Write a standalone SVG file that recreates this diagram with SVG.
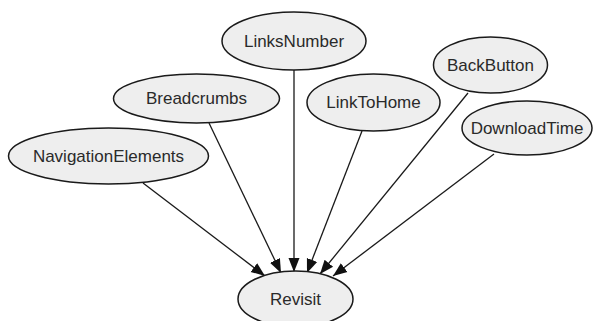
<svg xmlns="http://www.w3.org/2000/svg" width="594" height="321" viewBox="0 0 594 321">
  <style>
    .node ellipse { fill: #eeeeee; stroke: #1a1a1a; stroke-width: 1.5; }
    .node text { font-family: "Liberation Sans", Arial, sans-serif; font-size: 17px; fill: #2a2a2a; text-anchor: middle; dominant-baseline: central; }
    .edge { stroke: #1a1a1a; stroke-width: 1.3; fill: none; marker-end: url(#arrow); }
  </style>
  <defs>
    <marker id="arrow" markerUnits="userSpaceOnUse" markerWidth="15" markerHeight="13" refX="14" refY="6.5" orient="auto">
      <path d="M0,1 L14,6.5 L0,12 z" fill="#111111"/>
    </marker>
  </defs>
  <rect width="594" height="321" fill="#ffffff"/>

  <g id="edges">
    <line class="edge" x1="143" y1="183" x2="265" y2="276"/>
    <line class="edge" x1="209" y1="123" x2="281" y2="273"/>
    <line class="edge" x1="294" y1="70" x2="294" y2="272"/>
    <line class="edge" x1="362" y1="131" x2="307" y2="273"/>
    <line class="edge" x1="468" y1="93" x2="320" y2="274"/>
    <line class="edge" x1="494" y1="154" x2="333" y2="276"/>
  </g>

  <g id="NavigationElements" class="node">
    <ellipse cx="108.5" cy="156" rx="100" ry="28"/>
    <text x="108.5" y="156">NavigationElements</text>
  </g>
  <g id="Breadcrumbs" class="node">
    <ellipse cx="196.5" cy="98.5" rx="83" ry="24.5"/>
    <text x="196.5" y="98.5">Breadcrumbs</text>
  </g>
  <g id="LinksNumber" class="node">
    <ellipse cx="294" cy="41" rx="72" ry="29"/>
    <text x="294" y="41">LinksNumber</text>
  </g>
  <g id="LinkToHome" class="node">
    <ellipse cx="373.5" cy="102.5" rx="66.5" ry="28.5"/>
    <text x="373.5" y="102.5">LinkToHome</text>
  </g>
  <g id="BackButton" class="node">
    <ellipse cx="490.5" cy="65" rx="57" ry="28"/>
    <text x="490.5" y="65">BackButton</text>
  </g>
  <g id="DownloadTime" class="node">
    <ellipse cx="527" cy="128" rx="65" ry="27"/>
    <text x="527" y="128">DownloadTime</text>
  </g>
  <g id="Revisit" class="node">
    <ellipse cx="295.5" cy="299" rx="57.5" ry="28"/>
    <text x="295.5" y="299">Revisit</text>
  </g>
</svg>
